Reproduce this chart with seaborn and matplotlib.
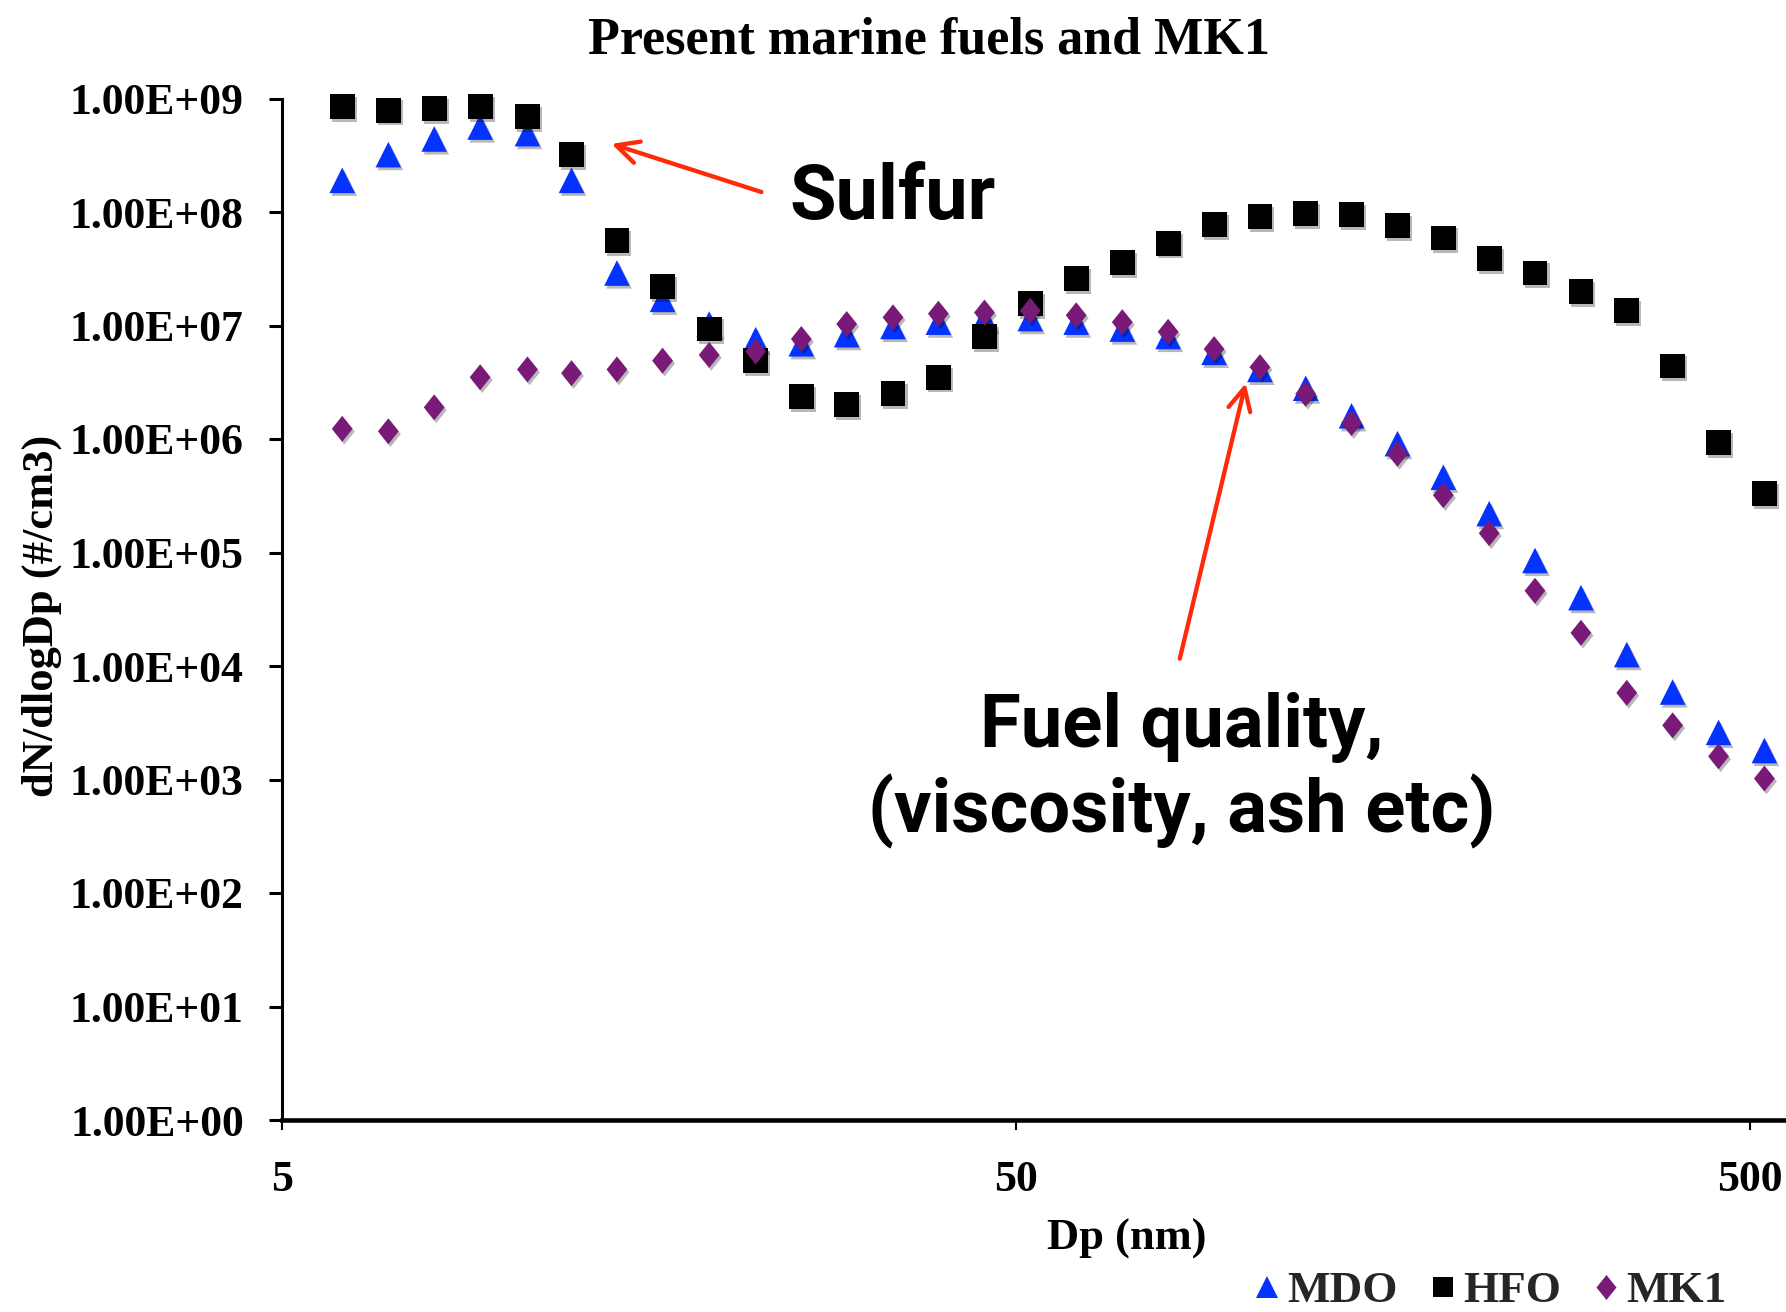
import numpy as np
import pandas as pd
import matplotlib
matplotlib.use("Agg")
import matplotlib.pyplot as plt
import seaborn as sns
from matplotlib.path import Path
from matplotlib.lines import Line2D
import matplotlib.patheffects as pe
from matplotlib.ticker import FixedLocator, FixedFormatter, NullLocator

# ---------------- data ----------------
dp_nm = [6.04, 6.98, 8.06, 9.31, 10.8, 12.4, 14.3, 16.5, 19.1, 22.1, 25.5, 29.4,
         34.0, 39.2, 45.3, 52.3, 60.4, 69.8, 80.6, 93.1, 107.5, 124.1, 143.3,
         165.5, 191.1, 220.7, 254.8, 294.3, 339.8, 392.4, 453.2, 523.3]

mdo = [1.9e8, 3.2e8, 4.4e8, 5.6e8, 4.9e8, 1.9e8, 2.9e7, 1.7e7, 1.03e7, 7.5e6,
       6.9e6, 8.3e6, 9.8e6, 1.07e7, 1.15e7, 1.15e7, 1.07e7, 9.3e6, 8.0e6, 5.8e6,
       4.1e6, 2.8e6, 1.6e6, 9.1e5, 4.6e5, 2.2e5, 8.5e4, 4.0e4, 1.26e4, 5.9e3,
       2.6e3, 1.8e3]

hfo = [8.5e8, 7.9e8, 8.1e8, 8.5e8, 6.9e8, 3.2e8, 5.6e7, 2.2e7, 9.3e6, 4.9e6,
       2.35e6, 2.0e6, 2.5e6, 3.5e6, 8.0e6, 1.55e7, 2.6e7, 3.6e7, 5.3e7, 7.7e7,
       9.1e7, 9.7e7, 9.5e7, 7.6e7, 5.9e7, 3.9e7, 2.9e7, 2.0e7, 1.35e7, 4.4e6,
       9.3e5, 3.3e5]

mk1 = [1.23e6, 1.17e6, 1.9e6, 3.5e6, 4.1e6, 3.8e6, 4.1e6, 4.9e6, 5.5e6, 5.9e6,
       7.6e6, 1.03e7, 1.18e7, 1.27e7, 1.3e7, 1.35e7, 1.23e7, 1.07e7, 8.8e6, 6.2e6,
       4.3e6, 2.5e6, 1.38e6, 7.4e5, 3.2e5, 1.48e5, 4.6e4, 1.96e4, 5.8e3, 3.0e3,
       1.6e3, 1.02e3]

series_names = ["MDO", "HFO", "MK1"]
series_colors = ["#0433FF", "#000000", "#7A1A78"]

y_tick_values = [1e0, 1e1, 1e2, 1e3, 1e4, 1e5, 1e6, 1e7, 1e8, 1e9]
y_tick_labels = ["1.00E+00", "1.00E+01", "1.00E+02", "1.00E+03", "1.00E+04",
                 "1.00E+05", "1.00E+06", "1.00E+07", "1.00E+08", "1.00E+09"]
x_tick_values = [5, 50, 500]
x_tick_labels = ["5", "50", "500"]

title_text = "Present marine fuels and MK1"
x_label = "Dp (nm)"
y_label = "dN/dlogDp (#/cm3)"

# ---------------- style ----------------
sns.set_theme(style="white")
plt.rcParams["font.family"] = ["Liberation Serif", "DejaVu Serif"]
plt.rcParams["font.weight"] = "bold"

W, H = 1786, 1312
fig = plt.figure(figsize=(W / 100, H / 100), dpi=100)
left_px, right_px, top_px, bot_px = 282, 1786, 98.5, 1120
ax = fig.add_axes([left_px / W, 1 - bot_px / H, (right_px - left_px) / W, (bot_px - top_px) / H])

df = pd.DataFrame({
    "Dp": dp_nm * 3,
    "dN": mdo + hfo + mk1,
    "fuel": [n for n in series_names for _ in dp_nm],
})

diamond = Path([(0, 1), (0.8, 0), (0, -1), (-0.8, 0), (0, 1)],
               [Path.MOVETO, Path.LINETO, Path.LINETO, Path.LINETO, Path.CLOSEPOLY])
markers = {"MDO": "^", "HFO": "s", "MK1": diamond}
sizes = {"MDO": 340, "HFO": 320, "MK1": 350}
shadow = [pe.SimplePatchShadow(offset=(1.5, -2), shadow_rgbFace=(0, 0, 0), alpha=0.28), pe.Normal()]

for name, color in zip(series_names, series_colors):
    sub = df[df["fuel"] == name]
    sns.scatterplot(data=sub, x="Dp", y="dN", ax=ax, marker=markers[name], color=color,
                    s=sizes[name], linewidth=0, legend=False, clip_on=False,
                    path_effects=shadow, zorder=3)

ax.set_xscale("log")
ax.set_yscale("log")
ax.set_xlim(5, 560)
ax.set_ylim(1, 1e9)

for s in ["top", "right"]:
    ax.spines[s].set_visible(False)
ax.spines["left"].set_linewidth(2.2)
ax.spines["left"].set_color("black")
ax.spines["bottom"].set_linewidth(3.3)
ax.spines["bottom"].set_color("black")

ax.yaxis.set_major_locator(FixedLocator(y_tick_values))
ax.yaxis.set_major_formatter(FixedFormatter(y_tick_labels))
ax.yaxis.set_minor_locator(NullLocator())
ax.xaxis.set_major_locator(FixedLocator(x_tick_values))
ax.xaxis.set_major_formatter(FixedFormatter(x_tick_labels))
ax.xaxis.set_minor_locator(NullLocator())

ax.tick_params(axis="y", which="major", direction="out", length=9.5, width=2.2,
               color="black", left=True, pad=18, labelsize=31.5, labelcolor="black")
ax.tick_params(axis="x", which="major", direction="out", length=7.5, width=1.5,
               color="black", bottom=True, pad=21, labelsize=31.5, labelcolor="black")
for lbl in ax.get_xticklabels() + ax.get_yticklabels():
    lbl.set_fontweight("bold")

ax.set_xlabel(x_label, fontsize=32, fontweight="bold", color="black")
ax.xaxis.set_label_coords(0.562, -0.097)
ax.set_ylabel(y_label, fontsize=32, fontweight="bold", color="black")
ax.yaxis.set_label_coords(-0.146, 0.494)

fig.text(0.520, 1 - 53.5 / H, title_text, ha="center", va="baseline",
         fontsize=37.5, fontweight="bold", color="black")

# annotations
red = "#FF2A0A"
arrow_kw = dict(arrowstyle="->", color=red, lw=3.1, mutation_scale=40,
                shrinkA=0, shrinkB=0, capstyle="round", joinstyle="round")
ax.annotate("", xy=(14.06, 3.98e8), xytext=(22.5, 1.5e8), arrowprops=arrow_kw)
ax.text(24.6, 1.32e8, "Sulfur", ha="left", va="center", fontsize=54.5,
        fontweight="bold", family=["Roboto", "DejaVu Sans"], color="black")
ax.annotate("", xy=(102.8, 3.1e6), xytext=(83.6, 1.16e4), arrowprops=arrow_kw)
ax.text(84.2, 1.2e3, "Fuel quality,\n(viscosity, ash etc)", ha="center", va="center",
        multialignment="center", fontsize=53.5, fontweight="bold",
        family=["Roboto", "DejaVu Sans"], color="black", linespacing=1.2)

# legend
handles = [
    Line2D([], [], ls="", marker="^", color=series_colors[0], markersize=16, markeredgewidth=0),
    Line2D([], [], ls="", marker="s", color=series_colors[1], markersize=14, markeredgewidth=0),
    Line2D([], [], ls="", marker=diamond, color=series_colors[2], markersize=18, markeredgewidth=0),
]
fig.legend(handles, series_names, loc="center", bbox_to_anchor=(0.833, 0.016), ncol=3,
           frameon=False, prop={"family": "Liberation Serif", "weight": "bold", "size": 32.5},
           handletextpad=0.05, columnspacing=0.6, handlelength=0.8, borderpad=0)

fig.savefig("out.png", dpi=100)
